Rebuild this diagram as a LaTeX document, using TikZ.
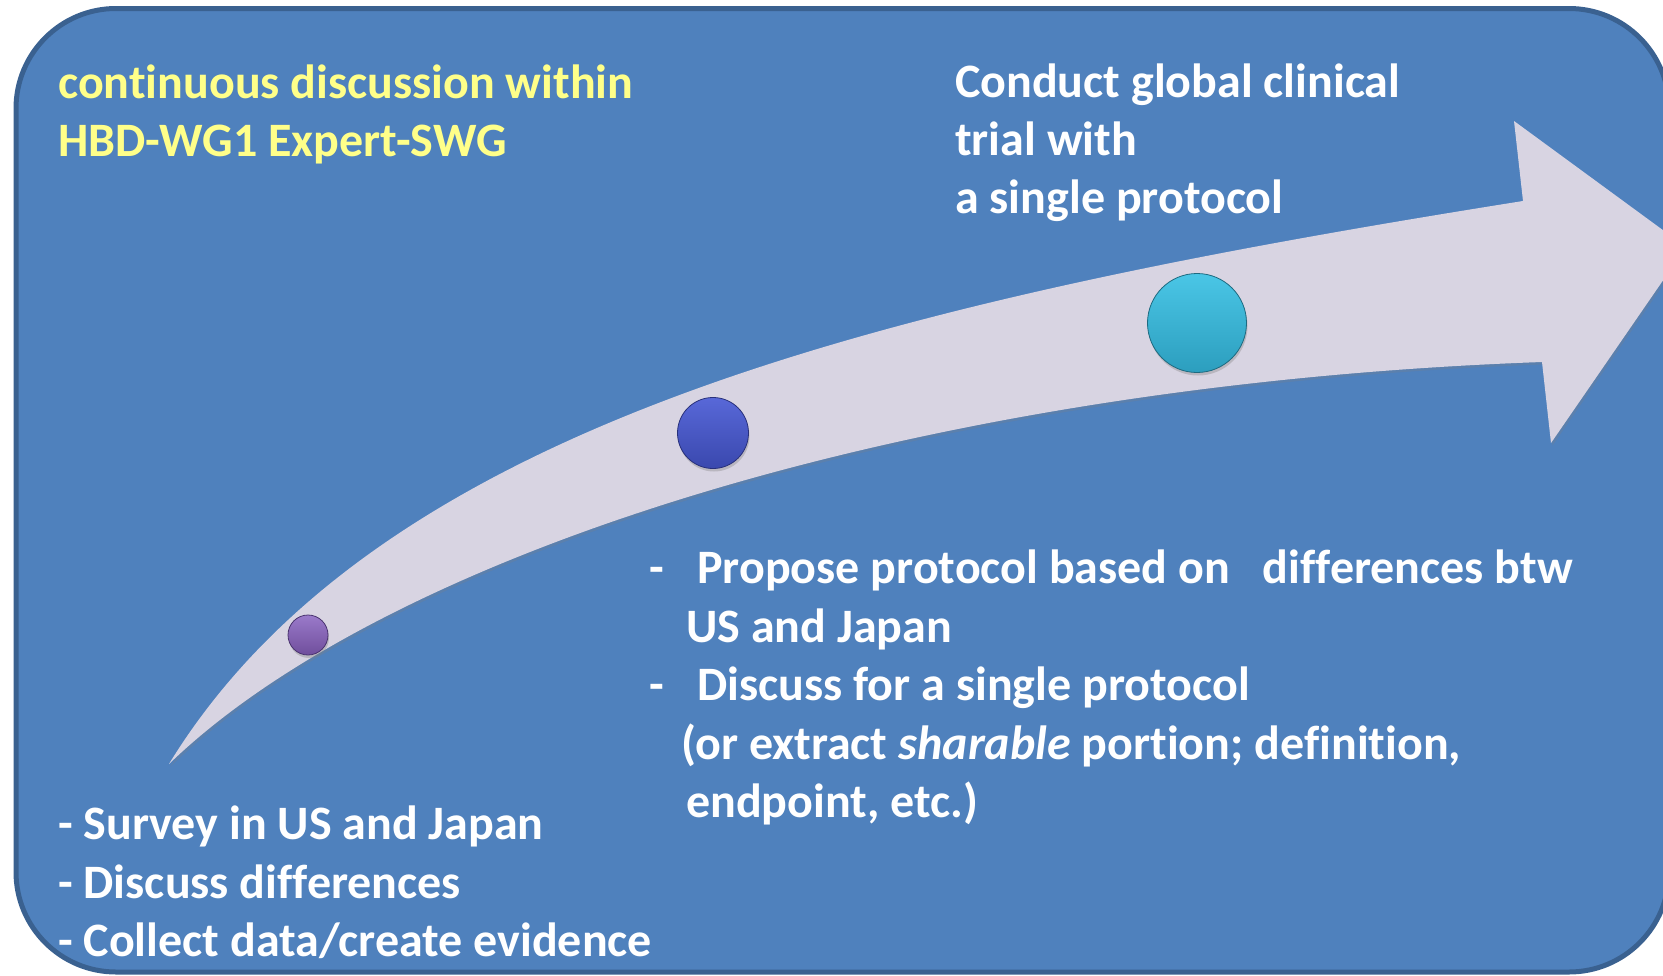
\documentclass[tikz,border=0pt]{standalone}
\usepackage{fontspec}
\setmainfont{Carlito}[Ligatures=CommonOff]
\usetikzlibrary{shadows}
\definecolor{slideblue}{HTML}{4F81BD}
\definecolor{slideedge}{HTML}{3A6190}
\definecolor{arrowgray}{HTML}{D8D4E2}
\definecolor{swgyellow}{HTML}{FFFF89}
\definecolor{violettop}{HTML}{9A7ACA}
\definecolor{violetmid}{HTML}{8560B0}
\definecolor{violetlow}{HTML}{704E9C}
\definecolor{violetrim}{HTML}{4A3470}
\definecolor{bluetop}{HTML}{5868D8}
\definecolor{bluemid}{HTML}{4455C2}
\definecolor{bluelow}{HTML}{3A48AE}
\definecolor{bluerim}{HTML}{28307A}
\definecolor{cyantop}{HTML}{4AC6E6}
\definecolor{cyanmid}{HTML}{34B2D2}
\definecolor{cyanlow}{HTML}{2C9EBE}
\definecolor{cyanrim}{HTML}{1E6A80}
\begin{document}
\begin{tikzpicture}[x=1pt,y=-1pt,txt/.style={anchor=base west,inner sep=0pt,text=white,font=\fontsize{48}{58}\bfseries\selectfont},ball/.style={circle,inner sep=0pt,top color=#1top,middle color=#1mid,bottom color=#1low,draw=#1rim,line width=0.8pt,drop shadow={opacity=0.35,shadow xshift=1pt,shadow yshift=-3pt}}]

\clip (0,0) rectangle (1663,975);

%slide
\draw [line width=5pt,draw=slideedge,fill=slideblue,rounded corners=100pt] (16,8.5) rectangle (1669,972);

%arrow
\fill [arrowgray,drop shadow={opacity=0.25,shadow xshift=1.5pt,shadow yshift=-2.5pt}] (169,764) .. controls (380,420) and (900,300) .. (1523,201) -- (1514,121) -- (1686,247) -- (1551,443) -- (1542,362) .. controls (900,385) and (380,560) .. (169,764) -- cycle;

\node[ball=violet,minimum size=40pt] (dot1) at (308,635) {};
\node[ball=blue,minimum size=71pt] (dot2) at (713,433) {};
\node[ball=cyan,minimum size=99pt] (dot3) at (1197,323) {};

%SWG
\node[txt,text=swgyellow] (swg1) at (58,98.5) {continuous discussion within};
\node[txt,text=swgyellow] (swg2) at (58,156.5) {HBD-WG1 Expert-SWG};

%goal
\node[txt] (goal1) at (955,97) {Conduct global clinical};
\node[txt] (goal2) at (955,155) {trial with};
\node[txt] (goal3) at (955,213) {a single protocol};

%steps
\node[txt] (step1) at (649,583.5) {\makebox[48pt][l]{-}Propose protocol based on\hspace{22pt} differences btw};
\node[txt] (step2) at (686,642) {US and Japan};
\node[txt] (step3) at (649,700.5) {\makebox[48pt][l]{-}Discuss for a single protocol};
\node[txt] (step4) at (681,759) {(or extract \textit{sharable} portion; definition,};
\node[txt] (step5) at (686,817) {endpoint, etc.)};

%survey
\node[txt] (survey1) at (58,839.5) {- Survey in US and Japan};
\node[txt] (survey2) at (58,898) {- Discuss differences};
\node[txt] (survey3) at (58,956) {- Collect data/create evidence};

\end{tikzpicture}
\end{document}
